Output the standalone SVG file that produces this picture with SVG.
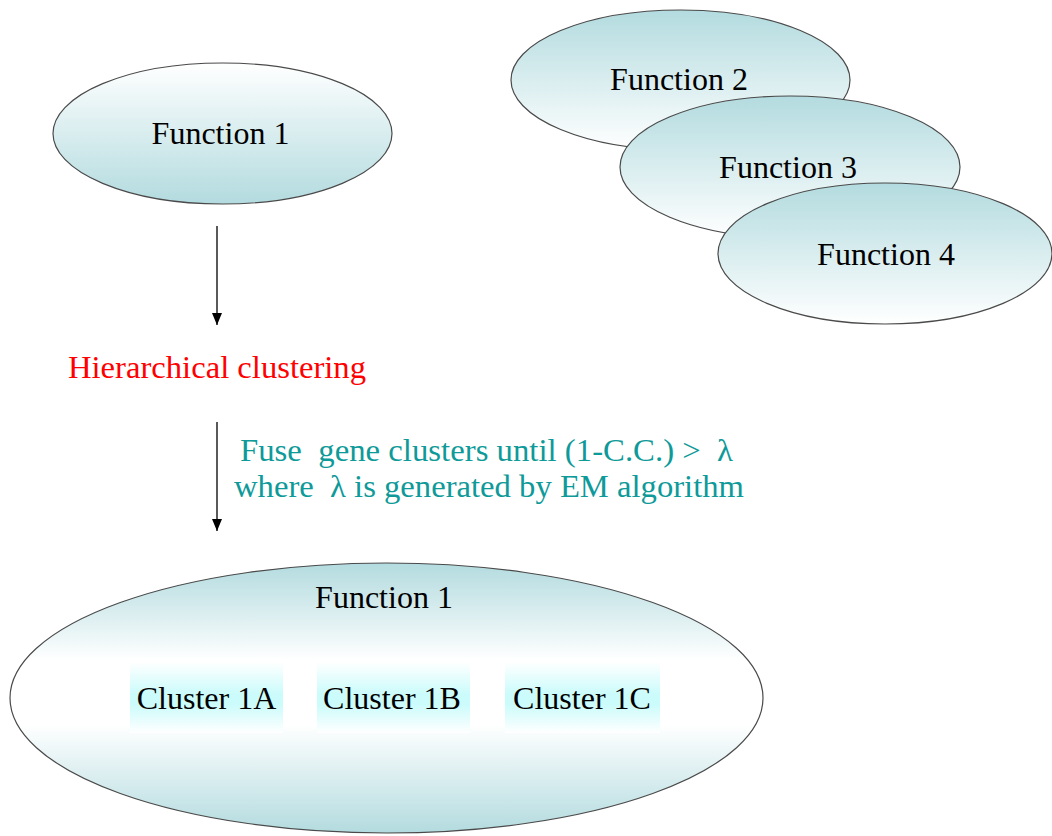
<svg xmlns="http://www.w3.org/2000/svg" width="1052" height="836" viewBox="0 0 1052 836">
  <style>
    .oval { stroke: #4a4a4a; stroke-width: 1.2; }
    .lbl { font-family: "Liberation Serif", "Times New Roman", serif; font-size: 32px; fill: #000; }
    .red { font-family: "Liberation Serif", "Times New Roman", serif; font-size: 31px; fill: #ff0000; }
    .teal { font-family: "Liberation Serif", "Times New Roman", serif; font-size: 31px; fill: #0e9a99; white-space: pre; }
    .edge { stroke: #000; stroke-width: 1.3; fill: none; }
  </style>
  <defs>
    <linearGradient id="gradDown" x1="0" y1="0" x2="0" y2="1">
      <stop offset="0" stop-color="#ffffff"/>
      <stop offset="1" stop-color="#b3dbdf"/>
    </linearGradient>
    <linearGradient id="gradUp" x1="0" y1="0" x2="0" y2="1">
      <stop offset="0" stop-color="#b3dbdf"/>
      <stop offset="1" stop-color="#ffffff"/>
    </linearGradient>
    <linearGradient id="gradMirror" x1="0" y1="0" x2="0" y2="1">
      <stop offset="0" stop-color="#b3dbdf"/>
      <stop offset="0.36" stop-color="#ffffff"/>
      <stop offset="0.6" stop-color="#ffffff"/>
      <stop offset="1" stop-color="#b3dbdf"/>
    </linearGradient>
    <linearGradient id="gradBox" x1="0" y1="0" x2="0" y2="1">
      <stop offset="0" stop-color="#ffffff"/>
      <stop offset="0.45" stop-color="#ccfbfb"/>
      <stop offset="0.6" stop-color="#ccfbfb"/>
      <stop offset="1" stop-color="#ffffff"/>
    </linearGradient>
    <marker id="arrow" viewBox="0 0 12 10" refX="12" refY="5" markerWidth="12" markerHeight="10" markerUnits="userSpaceOnUse" orient="auto">
      <path d="M0,0 L12,5 L0,10 Z" fill="#000"/>
    </marker>
  </defs>

  <rect width="1052" height="836" fill="#ffffff"/>

  <!-- source function -->
  <g id="function1">
    <ellipse class="oval" cx="222.5" cy="133.5" rx="169.5" ry="70.5" fill="url(#gradDown)"/>
    <text class="lbl" x="220.5" y="144" text-anchor="middle">Function 1</text>
  </g>

  <!-- stacked functions -->
  <g id="function2">
    <ellipse class="oval" cx="680.5" cy="80" rx="169.5" ry="70" fill="url(#gradUp)"/>
    <text class="lbl" x="679" y="90" text-anchor="middle">Function 2</text>
  </g>
  <g id="function3">
    <ellipse class="oval" cx="790" cy="167" rx="170" ry="71" fill="url(#gradUp)"/>
    <text class="lbl" x="788" y="178" text-anchor="middle">Function 3</text>
  </g>
  <g id="function4">
    <ellipse class="oval" cx="885" cy="253.5" rx="167" ry="70.5" fill="url(#gradUp)"/>
    <text class="lbl" x="886" y="265" text-anchor="middle">Function 4</text>
  </g>

  <!-- method step -->
  <g id="hierarchical">
    <text class="red" x="68" y="378" textLength="298" lengthAdjust="spacingAndGlyphs">Hierarchical clustering</text>
  </g>

  <g id="criterion">
    <text class="teal" x="240" y="461" textLength="493" lengthAdjust="spacingAndGlyphs">Fuse  gene clusters until (1-C.C.) &gt;  λ</text>
    <text class="teal" x="234" y="497" textLength="510" lengthAdjust="spacingAndGlyphs">where  λ is generated by EM algorithm</text>
  </g>

  <!-- result: function split into clusters -->
  <g id="function1-result">
    <ellipse class="oval" cx="386.5" cy="698" rx="376.5" ry="135" fill="url(#gradMirror)"/>
    <text class="lbl" x="384" y="608" text-anchor="middle">Function 1</text>
  </g>
  <g id="cluster1a">
    <rect x="130" y="662" width="153" height="71" fill="url(#gradBox)"/>
    <text class="lbl" x="206.5" y="709" text-anchor="middle">Cluster 1A</text>
  </g>
  <g id="cluster1b">
    <rect x="317" y="662" width="153" height="71" fill="url(#gradBox)"/>
    <text class="lbl" x="392" y="709" text-anchor="middle">Cluster 1B</text>
  </g>
  <g id="cluster1c">
    <rect x="505" y="662" width="155" height="71" fill="url(#gradBox)"/>
    <text class="lbl" x="582" y="709" text-anchor="middle">Cluster 1C</text>
  </g>

  <!-- connectors -->
  <g id="connectors">
    <line class="edge" x1="217" y1="226" x2="217" y2="325" marker-end="url(#arrow)"/>
    <line class="edge" x1="217" y1="422" x2="217" y2="531" marker-end="url(#arrow)"/>
  </g>
</svg>
